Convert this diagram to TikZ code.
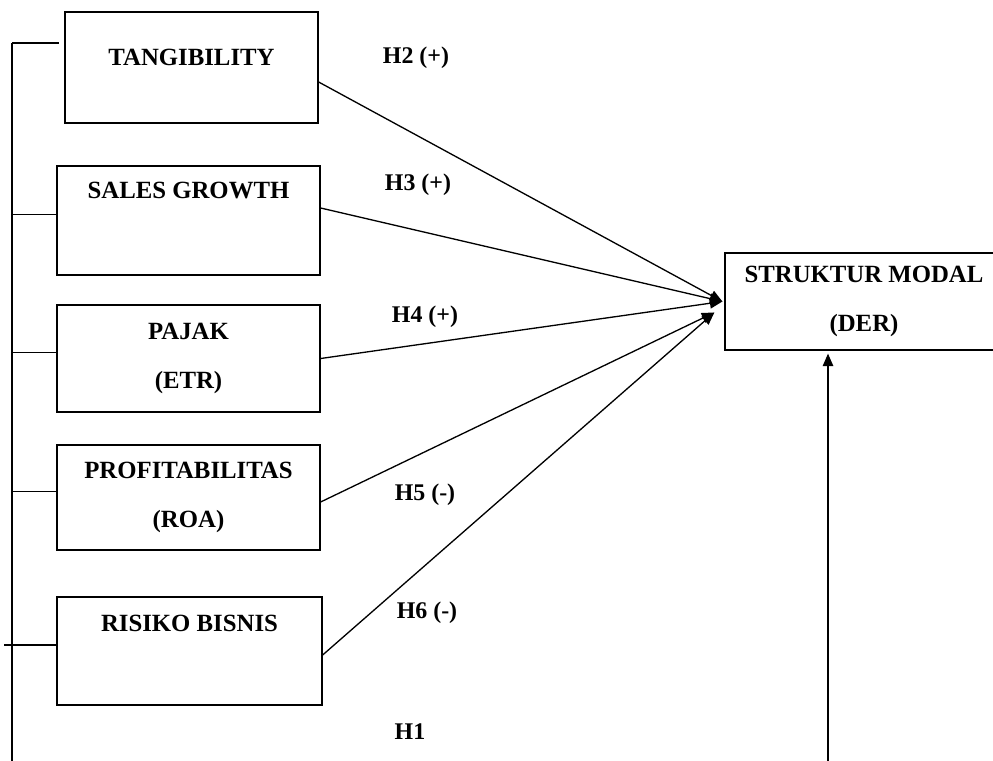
\documentclass[tikz,border=0pt]{standalone}
\usepackage{fontspec}
\setmainfont{Liberation Serif}
\usetikzlibrary{arrows.meta}

\begin{document}
\begin{tikzpicture}[%
    x=0.02cm, y=-0.02cm,         % pixel-like grid, y grows downwards
    >={Triangle[length=2.5mm, width=2.1mm]},
    line width=0.75pt,
    ]
% -------------------------------------------------
% Box and label styles
\tikzset{
  base/.style={draw, rectangle, align=center, inner sep=0pt,
    font={\bfseries\fontsize{14.1}{28.3}\selectfont}},
  var/.style={base, minimum width=5.26cm, minimum height=2.16cm},
  hyp/.style={font={\bfseries\fontsize{13.6}{16}\selectfont}},
}
\useasboundingbox (0,0) rectangle (993,760);
% -------------------------------------------------
% Independent variables on the left, dependent one on the right
\node [var, minimum width=5.06cm, minimum height=2.22cm, text depth=12pt]
  (tang) at (191.5,67.5) {TANGIBILITY};
\node [var, minimum height=2.18cm, text depth=34.6pt]
  (sales) at (188.5,220.5) {SALES GROWTH};
\node [var, minimum height=2.14cm] (pajak) at (188.5,358.5) {PAJAK\\(ETR)};
\node [var, minimum height=2.1cm] (profit) at (188.5,497.5) {PROFITABILITAS\\(ROA)};
\node [var, minimum width=5.3cm, text depth=31.8pt]
  (risiko) at (189.5,651) {RISIKO BISNIS};
\node [base, minimum width=5.56cm, minimum height=1.94cm]
  (der) at (864,301.5) {STRUKTUR MODAL\\(DER)};

% Hypothesis labels
\node [hyp] (h2) at (416,58) {H2 (+)};
\node [hyp] (h3) at (418,185) {H3 (+)};
\node [hyp] (h4) at (425,317) {H4 (+)};
\node [hyp] (h5) at (425,495) {H5 (-)};
\node [hyp] (h6) at (427,613) {H6 (-)};
\node [hyp] (h1) at (410,732) {H1};

% -------------------------------------------------
% Arrows into the dependent variable
\coordinate (hubA) at ([xshift=-0.04cm]der.west);
\coordinate (hubB) at ([xshift=-0.2cm, yshift=-0.22cm]der.west);
\draw [->] ([yshift=-0.29cm]tang.east) -- (hubA);
\draw [->] ([yshift=0.25cm]sales.east) -- (hubA);
\draw [->] (pajak.east) -- (hubA);
\draw [->] ([yshift=-0.09cm]profit.east) -- (hubB);
\draw [->] ([yshift=-0.08cm]risiko.east) -- (hubB);

% Left bracket collecting all variables (H1)
\coordinate (top) at (12,43);
\coordinate (foot) at (12,770);
\draw (top) -- (foot);
\draw (top) -- ([xshift=-0.1cm]tang.west |- top);
\foreach \n in {sales,pajak,profit}{
  \coordinate (b-\n) at ([yshift=0.12cm]\n.west);
  \draw (b-\n) -- (b-\n -| top);
}
\coordinate (b-risiko) at ([yshift=0.12cm]risiko.west);
\draw (b-risiko) -- ([xshift=-0.16cm]b-risiko -| top);

\coordinate (dasar) at (828,770);
\draw [->, shorten >=0.06cm] (dasar) -- (dasar |- der.south);
% -------------------------------------------------
\end{tikzpicture}
\end{document}
